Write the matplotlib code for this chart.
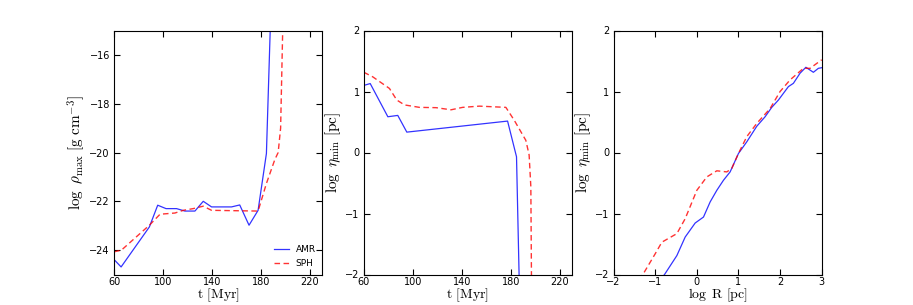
import numpy as np
import matplotlib
matplotlib.use("Agg")
import matplotlib.pyplot as plt

# --- data ---
# panel 1: peak density vs time
t_rho_amr = [60, 65.7, 88.8, 95.6, 102.4, 111, 117.8, 126, 132.8, 139.6, 155.9, 162.6,
             170.2, 177.6, 184.4, 187.5, 188.5]
rho_amr = [-24.39, -24.69, -23.05, -22.16, -22.3, -22.3, -22.4, -22.4, -22.0, -22.23, -22.23,
           -22.15, -22.98, -22.37, -20.04, -15.0, -12.0]
t_rho_sph = [60, 66, 88.8, 97.5, 109.7, 116.5, 124.6, 132.8, 139.6, 177.6, 184.4, 191.2,
             194, 196, 197.7, 198.5]
rho_sph = [-24.07, -24.0, -22.98, -22.53, -22.48, -22.37, -22.3, -22.2, -22.37, -22.4, -21.27,
           -20.3, -20.0, -19.0, -15.0, -12.0]

# panel 2: minimum scale vs time
t_eta_amr = [60, 65.2, 79.6, 87.7, 95.1, 177.4, 184.7, 186.8, 187.2]
eta_amr = [1.10, 1.13, 0.586, 0.608, 0.334, 0.515, -0.07, -2.0, -3.0]
t_eta_sph = [60, 67.3, 80.9, 86.9, 93.2, 105.4, 119, 131.2, 140.7, 154.3, 176, 182.8,
             192.3, 195, 196.4, 196.9, 197.1]
eta_sph = [1.315, 1.24, 1.05, 0.86, 0.78, 0.74, 0.735, 0.70, 0.74, 0.76, 0.74, 0.53,
           0.20, -0.04, -0.56, -2.0, -3.0]

# panel 3: minimum scale vs radius
logR_amr = [-0.9, -0.776, -0.48, -0.28, -0.04, 0.16, 0.32, 0.48, 0.64, 0.8, 1.0, 1.2, 1.44,
            1.64, 1.8, 1.96, 2.2, 2.32, 2.48, 2.62, 2.8, 2.92, 3.0]
eta_R_amr = [-2.1, -2.0, -1.69, -1.386, -1.156, -1.058, -0.81, -0.62, -0.455, -0.318, -0.016,
             0.175, 0.43, 0.586, 0.74, 0.86, 1.08, 1.134, 1.30, 1.397, 1.315, 1.38, 1.39]
logR_sph = [-1.4, -1.296, -1.0, -0.84, -0.48, -0.28, 0.0, 0.24, 0.48, 0.72, 0.84, 1.0, 1.2,
            1.44, 1.76, 2.0, 2.24, 2.56, 2.72, 3.0]
eta_R_sph = [-2.08, -2.0, -1.66, -1.47, -1.33, -1.085, -0.62, -0.40, -0.30, -0.318, -0.26,
             -0.016, 0.26, 0.477, 0.72, 1.0, 1.19, 1.38, 1.38, 1.52]

plt.rcParams['mathtext.fontset'] = 'cm'
plt.rcParams['xtick.direction'] = 'in'
plt.rcParams['ytick.direction'] = 'in'
plt.rcParams['xtick.top'] = True
plt.rcParams['ytick.right'] = True
plt.rcParams['xtick.labelsize'] = 7
plt.rcParams['ytick.labelsize'] = 7
plt.rcParams['xtick.major.size'] = 4
plt.rcParams['ytick.major.size'] = 4
plt.rcParams['xtick.major.pad'] = 2
plt.rcParams['ytick.major.pad'] = 3
plt.rcParams['axes.labelpad'] = 1.5

amr_style = dict(color='b', ls='-', lw=0.9, alpha=0.8)
sph_style = dict(color='r', ls=(0, (4, 2.5)), lw=1.0, alpha=0.8)

fig, axes = plt.subplots(1, 3, figsize=(9.13, 3.05), dpi=100)

ax = axes[0]
ax.plot(t_rho_amr, rho_amr, label='AMR', **amr_style)
ax.plot(t_rho_sph, rho_sph, label='SPH', **sph_style)
ax.set_xlim(60, 230)
ax.set_ylim(-25, -15)
ax.set_xticks([60, 100, 140, 180, 220])
ax.set_yticks([-24, -22, -20, -18, -16])
ax.set_xlabel(r'$\rm t\ [Myr]$', fontsize=10, labelpad=-0.5)
ax.set_ylabel(r'$\log\ \rho_{\rm max}\ [{\rm g\ cm^{-3}}]$', fontsize=11)
ax.legend(loc='lower right', frameon=False, fontsize=6.5, handlelength=1.6,
          borderaxespad=0.3, labelspacing=0.6)

ax = axes[1]
ax.plot(t_eta_amr, eta_amr, **amr_style)
ax.plot(t_eta_sph, eta_sph, **sph_style)
ax.set_xlim(60, 230)
ax.set_ylim(-2, 2)
ax.set_xticks([60, 100, 140, 180, 220])
ax.set_yticks([-2, -1, 0, 1, 2])
ax.set_xlabel(r'$\rm t\ [Myr]$', fontsize=10, labelpad=-0.5)
ax.set_ylabel(r'$\log\ \eta_{\rm min}\ [{\rm pc}]$', fontsize=11)

ax = axes[2]
ax.plot(logR_amr, eta_R_amr, **amr_style)
ax.plot(logR_sph, eta_R_sph, **sph_style)
ax.set_xlim(-2, 3)
ax.set_ylim(-2, 2)
ax.set_xticks([-2, -1, 0, 1, 2, 3])
ax.set_yticks([-2, -1, 0, 1, 2])
ax.set_xlabel(r'$\log\ {\rm R}\ [{\rm pc}]$', fontsize=10, labelpad=-0.5)
ax.set_ylabel(r'$\log\ \eta_{\rm min}\ [{\rm pc}]$', fontsize=11)

plt.subplots_adjust(left=0.125, right=0.9, bottom=0.1, top=0.9, wspace=0.2)
plt.savefig('out.png', dpi=100)
